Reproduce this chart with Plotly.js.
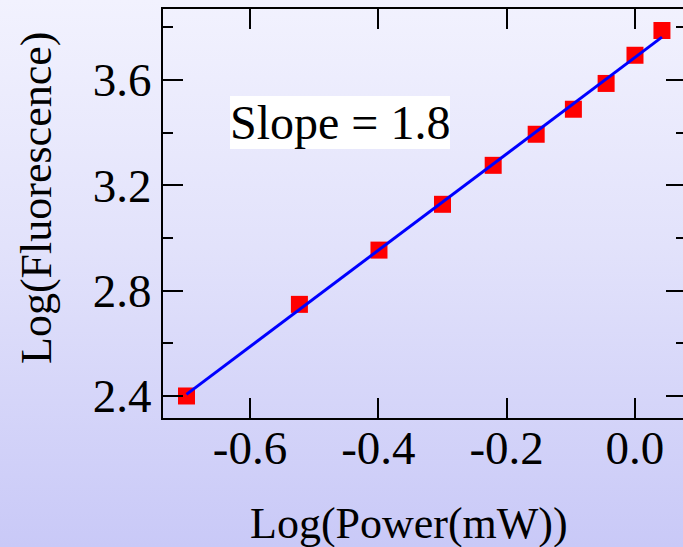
<!DOCTYPE html>
<html>
<head>
<meta charset="utf-8">
<script src="https://cdn.plot.ly/plotly-3.0.1.min.js"></script>
<style>
  html, body { margin: 0; padding: 0; width: 683px; height: 547px; overflow: hidden; }
  body { background: linear-gradient(to bottom, #f2f2fe 0%, #e2e2fb 45%, #c9c9f7 100%); }
  #chart { width: 686px; height: 547px; }
</style>
</head>
<body>
<div id="chart"></div>
<script>
// Data
const logPower = [-0.699, -0.523, -0.399, -0.300, -0.221, -0.154, -0.096, -0.045, 0.000, 0.042];
const logFluor = [2.400, 2.748, 2.954, 3.128, 3.276, 3.394, 3.489, 3.587, 3.694, 3.788];
// Fitted line (slope ~1.8) end points
const fitX = [-0.699, 0.042];
const fitY = [2.406, 3.763];
// Tick labels
const xTickVals = [-0.6, -0.4, -0.2, 0.0];
const xTickText = ["-0.6", "-0.4", "-0.2", "0.0"];
const yTickVals = [2.4, 2.8, 3.2, 3.6];
const yTickText = ["2.4", "2.8", "3.2", "3.6"];
const slopeLabel = "Slope = 1.8";
const xTitle = "Log(Power(mW))";
const yTitle = "Log(Fluorescence)";

const FONT = "Liberation Serif, Times New Roman, serif";

const traces = [
  {
    x: logPower, y: logFluor, type: "scatter", mode: "markers",
    marker: { symbol: "square", size: 17, color: "#ff0000", line: { width: 0 } },
    hoverinfo: "x+y"
  },
  {
    x: fitX, y: fitY, type: "scatter", mode: "lines",
    line: { color: "#0000ff", width: 3 },
    hoverinfo: "skip"
  }
];

const layout = {
  width: 686, height: 547,
  margin: { l: 163, r: 0, t: 9, b: 129 },
  paper_bgcolor: "rgba(0,0,0,0)",
  plot_bgcolor: "rgba(0,0,0,0)",
  showlegend: false,
  font: { family: FONT, color: "#000" },
  xaxis: {
    range: [-0.7356, 0.0795],
    tickmode: "array", tickvals: xTickVals, ticktext: xTickText,
    ticks: "inside", ticklen: 20, tickwidth: 2, tickcolor: "#000",
    ticklabelstandoff: -12,
    showline: true, linewidth: 2, linecolor: "#000", mirror: "ticks",
    showgrid: false, zeroline: false,
    tickfont: { family: FONT, size: 47, color: "#000" }
  },
  yaxis: {
    range: [2.3164, 3.8697],
    tickmode: "array", tickvals: yTickVals, ticktext: yTickText,
    ticks: "inside", ticklen: 20, tickwidth: 2, tickcolor: "#000",
    minor: { tickmode: "linear", tick0: 2.4, dtick: 0.2, ticks: "inside", ticklen: 10, tickwidth: 2, tickcolor: "#000" },
    showline: true, linewidth: 2, linecolor: "#000", mirror: "ticks",
    showgrid: false, zeroline: false,
    tickfont: { family: FONT, size: 47, color: "#000" }
  },
  annotations: [
    {
      x: -0.459, y: 3.437, xref: "x", yref: "y",
      text: slopeLabel, showarrow: false,
      font: { family: FONT, size: 48, color: "#000" },
      bgcolor: "#ffffff", borderpad: 0, borderwidth: 0,
      xanchor: "center", yanchor: "middle"
    },
    {
      x: 0.470, y: -0.259, xref: "paper", yref: "paper",
      text: xTitle, showarrow: false,
      font: { family: FONT, size: 44, color: "#000" },
      xanchor: "center", yanchor: "middle"
    },
    {
      x: -0.241, y: 0.538, xref: "paper", yref: "paper",
      text: yTitle, showarrow: false, textangle: -90,
      font: { family: FONT, size: 44, color: "#000" },
      xanchor: "center", yanchor: "middle"
    }
  ]
};

Plotly.newPlot("chart", traces, layout, { displayModeBar: false, staticPlot: true });
</script>
</body>
</html>
